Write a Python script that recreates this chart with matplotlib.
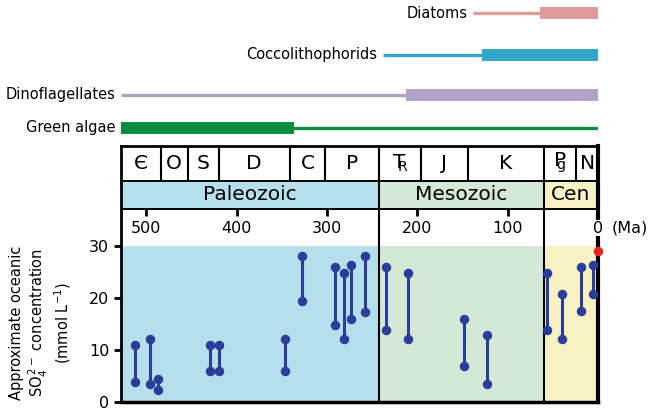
import matplotlib
matplotlib.use('Agg')
import matplotlib.pyplot as plt

# Escala geologica (Ma)
periodos = ['Є', 'O', 'S', 'D', 'C', 'P', r'$\mathrm{T}_{\!\!\!\mathrm{R}}$', 'J', 'K',
            r'$\mathrm{P}_{\!\!\!\!\mathrm{g}}$', 'N']
limites_periodos = [528, 484, 454, 420, 341, 302, 242, 196, 144, 60, 24, 0]
eras = ['Paleozoic', 'Mesozoic', 'Cen']
limites_eras = [528, 242, 60, 0]
colores_eras = ['#b6dfee', '#d4e9d5', '#f8f1c4']
ticks_ma = [500, 400, 300, 200, 100, 0]

# Concentracion de sulfato (mmol/L)
edades = [513, 496, 487, 430, 420, 346, 328, 291, 281, 273, 258, 235, 210, 148, 123, 56, 40, 19, 5]
so4_min = [3.9, 3.5, 2.4, 6.0, 6.0, 6.0, 19.4, 14.8, 12.2, 16.1, 17.4, 13.8, 12.2, 7.0, 3.5, 13.8, 12.2, 17.5, 20.9]
so4_max = [11.0, 12.2, 4.4, 11.0, 11.0, 12.2, 28.1, 26.0, 24.9, 26.3, 28.1, 26.0, 24.9, 16.1, 13.0, 24.9, 20.9, 26.0, 26.3]
edad_actual = [0]
so4_actual = [29]

# Grupos de fitoplancton
grupos = ['Diatoms', 'Coccolithophorids', 'Dinoflagellates', 'Green algae']
inicio = [138, 238, 528, 528]
inicio_grueso = [64, 128, 212, 528]
fin_grueso = [0, 0, 0, 337]
colores_grupos = ['#e09a98', '#33a7c9', '#b3a2c7', '#0c8d3d']
fila_y = [13.3, 55, 95, 127.5]

W, H = 650, 413
fig = plt.figure(figsize=(W / 100, H / 100), dpi=100)

ax = fig.add_axes([121 / W, 10.7 / H, 477 / W, 256.6 / H])
ax.set_xlim(528, 0)
ax.set_ylim(0, 49.3)

y_datos = 30
y_era_bajo, y_era_alto = 37.17, 42.56
y_top = 49.3

# fondos de las eras
for i, era in enumerate(eras):
    a, b = limites_eras[i], limites_eras[i + 1]
    ax.axvspan(b, a, ymin=0, ymax=y_datos / y_top, color=colores_eras[i], lw=0, zorder=0)
    ax.axvspan(b, a, ymin=y_era_bajo / y_top, ymax=y_era_alto / y_top, color=colores_eras[i], lw=0, zorder=0)
    ax.text((a + b) / 2, (y_era_bajo + y_era_alto) / 2, era, ha='center', va='center', fontsize=14.5)

ax.axhline(y_era_alto, color='black', lw=1.4)
ax.axhline(y_era_bajo, color='black', lw=1.4)
for b in limites_eras[1:-1]:
    ax.axvline(b, color='black', lw=1.5)
sep = [b for b in limites_periodos[1:-1] if b not in limites_eras]
ax.vlines(sep, y_era_alto, y_top, color='black', lw=1.5)

# periodos
for i, p in enumerate(periodos):
    c = (limites_periodos[i] + limites_periodos[i + 1]) / 2
    yc = (y_era_alto + y_top) / 2
    ax.text(c, yc, p, ha='center', va='center', fontsize=14.5)

# escala en Ma
ax.vlines(ticks_ma, 35.8, y_era_bajo, color='black', lw=2)
for t in ticks_ma:
    ax.text(t, 33.4, str(t), ha='center', va='center', fontsize=11.5, zorder=4,
            bbox=dict(facecolor='white', edgecolor='none', pad=0.3) if t == 0 else None)
ax.text(-15, 33.4, '(Ma)', ha='left', va='center', fontsize=11.5)

# datos
azul = '#2b3d9a'
ax.vlines(edades, so4_min, so4_max, color=azul, lw=2.2, zorder=3)
ax.scatter(edades, so4_min, s=34, color=azul, zorder=3)
ax.scatter(edades, so4_max, s=34, color=azul, zorder=3)
ax.scatter(edad_actual, so4_actual, s=34, color='#e8231f', zorder=5, clip_on=False)

ax.set_xticks([])
ax.set_yticks([0, 10, 20, 30])
ax.tick_params(axis='y', direction='out', length=5, width=2, labelsize=11.5)
ax.spines['top'].set_linewidth(2)
ax.spines['left'].set_linewidth(2)
ax.spines['bottom'].set_linewidth(2.5)
ax.spines['right'].set_linewidth(3)

fig.text(41 / W, 1 - 323 / H,
         'Approximate oceanic\nSO$_4^{\\,2-}$ concentration\n(mmol L$^{-1}$)',
         rotation=90, ha='center', va='center', fontsize=10.5, linespacing=1.15,
         multialignment='center')

# barras de fitoplancton
ax_top = fig.add_axes([121 / W, 1 - 145 / H, 477 / W, 145 / H])
ax_top.set_xlim(528, 0)
ax_top.set_ylim(145, 0)
ax_top.axis('off')
for i, g in enumerate(grupos):
    y = fila_y[i]
    ax_top.hlines(y, inicio[i], 0, color=colores_grupos[i], lw=2.4, capstyle='butt')
    ax_top.hlines(y, inicio_grueso[i], fin_grueso[i], color=colores_grupos[i], lw=8.6, capstyle='butt')
    ax_top.text(inicio[i] + 6, y, g, ha='right', va='center', fontsize=10.5)

fig.savefig('out.png', dpi=100)
